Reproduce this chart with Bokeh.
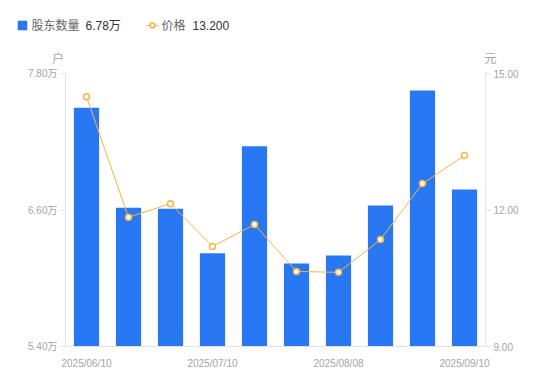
from bokeh.plotting import figure
from bokeh.layouts import column
from bokeh.models import (Range1d, LinearAxis, FixedTicker, Legend, LegendItem, Label,
                          CustomJSTickFormatter)
from bokeh.embed import file_html
from bokeh.resources import INLINE

dates = ["2025/06/10", "2025/06/20", "2025/06/30", "2025/07/10", "2025/07/18",
         "2025/07/31", "2025/08/08", "2025/08/20", "2025/08/29", "2025/09/10"]
holders = [7.50, 6.62, 6.61, 6.22, 7.16, 6.13, 6.20, 6.64, 7.65, 6.78]  # 万户
price = [14.49, 11.84, 12.14, 11.20, 11.68, 10.65, 10.63, 11.35, 12.58, 13.20]
left_ticks = [5.40, 6.60, 7.80]
right_ticks = [9.00, 12.00, 15.00]
shown_dates = [0, 3, 6, 9]
legend_names = ["股东数量", "价格"]
legend_values = ["6.78万", "13.200"]
unit_left = "户"
unit_right = "元"

BLUE = "#2878f4"
ORANGE = "#f9b342"
GREY = "#a3a3ad"
AXIS = "#e3e3e3"
FONT = "Liberation Sans, Noto Sans CJK SC"
CJK = "Noto Sans CJK SC"
W = 534
HEAD = 66

# ---------- header (legend + unit titles) ----------
h = figure(width=W, height=HEAD, x_range=Range1d(0, W), y_range=Range1d(HEAD, 0),
           output_backend="svg", toolbar_location=None,
           min_border_left=0, min_border_right=0, min_border_top=0, min_border_bottom=0)
h.frame_align = False
h.axis.visible = False
h.grid.visible = False
h.outline_line_color = None

# off-screen sample marks, only used to draw the legend icons
lb = h.vbar(x=[-1000], top=[-1000], width=1, fill_color=BLUE, line_color=None)
ll = h.line(x=[-1000, -999], y=[-1000, -1000], line_color=ORANGE, line_width=1)
ls = h.scatter(x=[-1000], y=[-1000], size=6, fill_color="white", line_color=ORANGE,
               line_width=1.5)
legend = Legend(items=[LegendItem(label=legend_names[0], renderers=[lb]),
                       LegendItem(label=legend_names[1], renderers=[ll, ls])],
                orientation="horizontal", location=(15.5, HEAD - 33),
                glyph_width=12, glyph_height=12, label_standoff=4, spacing=66,
                padding=0, margin=0, border_line_color=None, background_fill_alpha=0,
                label_text_font=CJK, label_text_font_size="12px", label_text_color="#666666",
                label_height=16)
h.add_layout(legend, "center")

for txt, x in zip(legend_values, (85, 192)):
    h.add_layout(Label(x=x, y=25, text=txt, text_align="left", text_baseline="middle",
                       text_color="#333333", text_font=FONT, text_font_size="12px"))
for txt, x in ((unit_left, 57.5), (unit_right, 490)):
    h.add_layout(Label(x=x, y=57, text=txt, text_align="center", text_baseline="middle",
                       text_color=GREY, text_font=CJK, text_font_size="12px"))

# ---------- main chart ----------
xs = list(range(len(dates)))

p = figure(width=W, frame_width=420, frame_height=273,
           min_border_left=65, min_border_right=49, min_border_top=73 - HEAD,
           min_border_bottom=19,
           x_range=Range1d(-0.5, len(dates) - 0.5), y_range=Range1d(5.40, 7.80),
           output_backend="svg", toolbar_location=None, y_axis_location=None,
           x_axis_location=None)
p.frame_align = False
p.extra_y_ranges = {"price": Range1d(9.0, 15.0)}
p.grid.visible = False
p.outline_line_color = None

p.vbar(x=xs, top=holders, bottom=5.40, width=0.6, fill_color=BLUE, line_color=None)
p.line(x=xs, y=price, y_range_name="price", line_color=ORANGE, line_width=1)
p.scatter(x=xs, y=price, y_range_name="price", size=6, fill_color="white",
          line_color=ORANGE, line_width=1.5)

xaxis = LinearAxis(ticker=FixedTicker(ticks=shown_dates),
                   major_label_overrides={i: dates[i] for i in shown_dates})
xaxis.axis_line_color = AXIS
xaxis.major_tick_line_color = None
xaxis.minor_tick_line_color = None
xaxis.major_label_text_color = GREY
xaxis.major_label_text_font = FONT
xaxis.major_label_text_font_size = "10px"
xaxis.major_label_standoff = 5
p.add_layout(xaxis, "below")

laxis = LinearAxis(ticker=FixedTicker(ticks=left_ticks),
                   formatter=CustomJSTickFormatter(code="return tick.toFixed(2) + '万';"))
raxis = LinearAxis(y_range_name="price", ticker=FixedTicker(ticks=right_ticks),
                   formatter=CustomJSTickFormatter(code="return tick.toFixed(2);"))
for ax in (laxis, raxis):
    ax.axis_line_color = AXIS
    ax.major_tick_line_color = AXIS
    ax.major_tick_out = 5
    ax.major_tick_in = 0
    ax.minor_tick_line_color = None
    ax.major_label_text_color = GREY
    ax.major_label_text_font = FONT
    ax.major_label_text_font_size = "10px"
    ax.major_label_standoff = 3
p.add_layout(laxis, "left")
p.add_layout(raxis, "right")

open("out.html", "w").write(file_html(column(h, p, spacing=0), INLINE))
